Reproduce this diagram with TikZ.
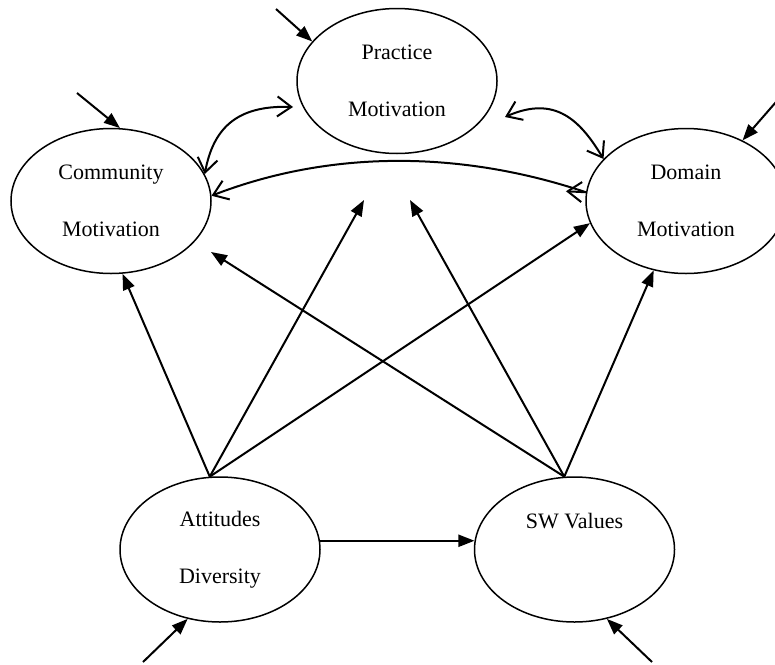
\documentclass[tikz,border=0pt]{standalone}
\usepackage{fontspec}
\setmainfont{Liberation Serif}
\usetikzlibrary{shapes.geometric,arrows.meta}
\begin{document}
\begin{tikzpicture}[x=1pt,y=-1pt,
  latent/.style={draw, ellipse, line width=1.5pt, minimum width=200pt,
    minimum height=145pt, inner sep=0pt, align=center,
    font=\fontsize{22}{57}\selectfont},
  effect/.style={line width=2pt, -{Triangle[length=16pt,width=12pt]}},
  barb/.style={Straight Barb[length=14pt,width=20pt]},
  covar/.style={line width=2pt, {Straight Barb[length=14pt,width=20pt]}-{Straight Barb[length=14pt,width=20pt]}},
  oneway/.style={line width=2pt, -{Straight Barb[length=14pt,width=20pt]}}
]
\useasboundingbox (0,0) rectangle (775,664);
\fill[white] (0,0) rectangle (775,664);

% latent variables
\node[latent] (pra) at (397,81)      {Practice\\Motivation};
\node[latent] (com) at (111,201)     {Community\\Motivation};
\node[latent] (dom) at (686,201)     {Domain\\Motivation};
\node[latent] (att) at (220,549.5)   {Attitudes\\Diversity};
\node[latent] (sw)  at (574.5,549.5) {SW Values\\\mbox{}};

% free ends: error terms and short paths
\coordinate (e-pra) at (276,9);
\coordinate (e-com) at (77,93);
\coordinate (e-dom) at (776,102);
\coordinate (e-att) at (143,662);
\coordinate (e-sw)  at (652,662);
\coordinate (pra-att) at (364,200);
\coordinate (pra-sw)  at (410,200);
\coordinate (com-sw)  at (211,252);
\coordinate (pra-l) at (293,107);
\coordinate (pra-r) at (505,117);

% error terms
\draw[effect] (e-pra) -- (pra.155);
\draw[effect] (e-com) -- (com.83);
\draw[effect] (e-dom) -- (dom.47);
\draw[effect] (e-att) -- (att.245);
\draw[effect] (e-sw)  -- (sw.-65);

% structural paths
\draw[effect] (att.98) -- (com.-81);
\draw[effect] (att.98) -- (pra-att);
\draw[effect] (att.98) -- (dom.193);
\draw[effect] (sw.98)  -- (com-sw);
\draw[effect] (sw.98)  -- (pra-sw);
\draw[effect] (sw.98)  -- (dom.245);
\draw[effect] (att.5)  -- (sw.175);

% covariances
\draw[covar] (com.16) .. controls (213,130) and (235,105) .. (pra-l);
\draw[covar] (pra-r) .. controls (555,95) and (580,120) .. (dom.153);
\draw[oneway] (dom.175) .. controls (460,150) and (330,150) .. (com.3);
\draw[oneway] (dom.175) -- ++(-20,-1);
\end{tikzpicture}
\end{document}
